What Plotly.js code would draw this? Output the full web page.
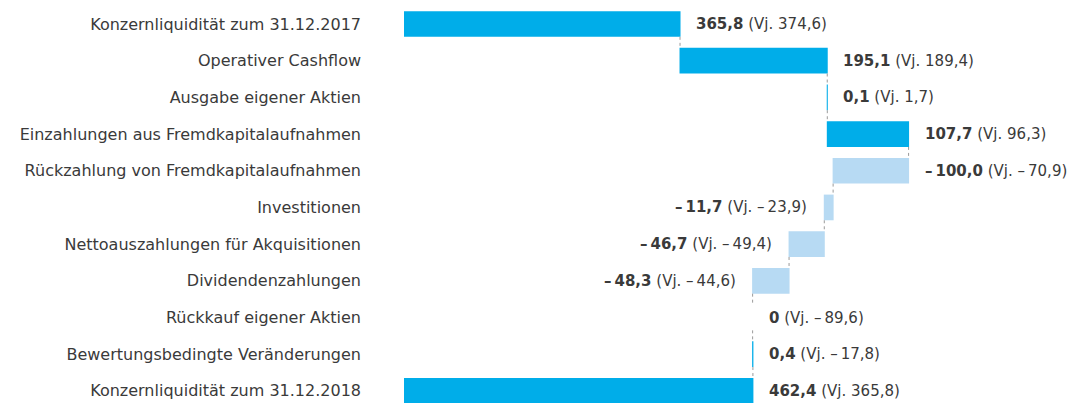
<!DOCTYPE html>
<html><head><meta charset="utf-8">
<script src="https://cdn.plot.ly/plotly-3.0.1.min.js"></script>
<style>html,body{margin:0;padding:0;background:#fff}#chart{width:1073px;height:403px}</style>
</head><body><div id="chart"></div>
<script>
const categories = [
  "Konzernliquidität zum 31.12.2017",
  "Operativer Cashflow",
  "Ausgabe eigener Aktien",
  "Einzahlungen aus Fremdkapitalaufnahmen",
  "Rückzahlung von Fremdkapitalaufnahmen",
  "Investitionen",
  "Nettoauszahlungen für Akquisitionen",
  "Dividendenzahlungen",
  "Rückkauf eigener Aktien",
  "Bewertungsbedingte Veränderungen",
  "Konzernliquidität zum 31.12.2018"
];
const measures = ["absolute","relative","relative","relative","relative","relative","relative","relative","relative","relative","total"];
const values = [365.8, 195.1, 0.1, 107.7, -100.0, -11.7, -46.7, -48.3, 0, 0.4, 462.4];
const priorYear = [374.6, 189.4, 1.7, 96.3, -70.9, -23.9, -49.4, -44.6, -89.6, -17.8, 365.8];
// label placement (style): 'r' right of bar, 'l' left of bar
const labelSide = ['r','r','r','r','r','l','l','l','r','r','r'];

const BLUE = '#00ADE9', LIGHT = '#B7DAF3', TXT = '#3a3a3a';
const FONT = '"DejaVu Sans", sans-serif';

function fmt(v) {
  if (v === 0) return '0';
  const s = Math.abs(v).toFixed(1).replace('.', ',');
  return (v < 0 ? '–\u2009' : '') + s;
}

// cumulative positions computed from data
const annotations = [];
let cum = 0;
values.forEach((v, i) => {
  let start, end;
  if (measures[i] === 'absolute' || measures[i] === 'total') { start = 0; end = v; }
  else { start = cum; end = cum + v; }
  cum = (measures[i] === 'relative') ? end : v;
  const hi = Math.max(start, end), lo = Math.min(start, end);
  const text = '<b>' + fmt(values[i]) + '</b> (Vj. ' + fmt(priorYear[i]) + ')';
  const right = labelSide[i] === 'r';
  annotations.push({
    x: right ? hi : lo, y: categories[i], xref: 'x', yref: 'y',
    text: text, showarrow: false,
    xanchor: right ? 'left' : 'right', xshift: right ? 14 : -15,
    font: {family: FONT, size: 15, color: TXT}
  });
});

const trace = {
  type: 'waterfall', orientation: 'h',
  y: categories, x: values, measure: measures,
  increasing: {marker: {color: BLUE}},
  decreasing: {marker: {color: LIGHT}},
  totals: {marker: {color: BLUE}},
  connector: {mode: 'between', line: {color: '#9a9a9a', width: 1, dash: 'dot'}},
  width: 0.7,
  textinfo: 'none', hoverinfo: 'skip'
};

const layout = {
  width: 1073, height: 403,
  margin: {l: 404, r: 0, t: 0, b: 0},
  paper_bgcolor: '#fff', plot_bgcolor: '#fff',
  showlegend: false,
  xaxis: {range: [0, 886.6], showgrid: false, zeroline: false, showticklabels: false, showline: false, ticks: ''},
  yaxis: {type: 'category', range: [10.33, -0.654], showgrid: false, zeroline: false, showline: false,
          ticks: '', ticklabelstandoff: 42,
          tickfont: {family: FONT, size: 16, color: TXT}},
  annotations: annotations
};

Plotly.newPlot('chart', [trace], layout, {staticPlot: true, displayModeBar: false});
</script>
</body></html>
